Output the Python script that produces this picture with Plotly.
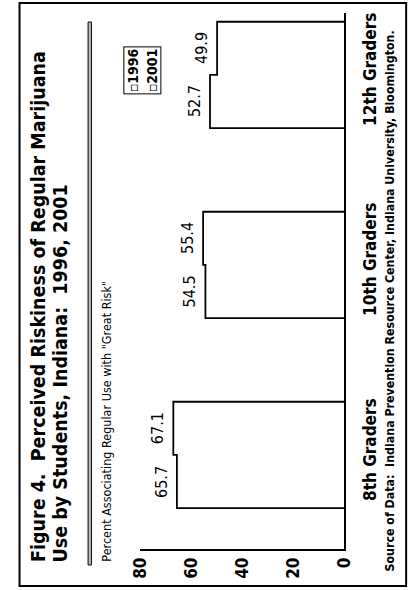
import plotly.graph_objects as go

# ---------------- data ----------------
categories = ["8th Graders", "10th Graders", "12th Graders"]
values_1996 = [65.7, 54.5, 52.7]
values_2001 = [67.1, 55.4, 49.9]
series_names = ["1996", "2001"]
tick_values = [0, 20, 40, 60, 80]
tick_labels = ["0", "20", "40", "60", "80"]

title_line1 = "Figure 4.  Perceived Riskiness of Regular Marijuana"
title_line2 = "Use by Students, Indiana:  1996, 2001"
subtitle = "Percent Associating Regular Use with \"Great Risk\""
source_text = "Source of Data:  Indiana Prevention Resource Center, Indiana University, Bloomington."

# ---------------- layout helpers ----------------
W, H = 419, 590


def px(x):
    return x / W


def py(y):
    return 1 - y / H


FONT = "Liberation Sans Narrow, DejaVu Sans Condensed, Arial Narrow, sans-serif"
BAR_W = 0.28
pos = list(range(len(categories)))

fig = go.Figure()

# bars (white fill, outline drawn as a single stepped path below)
for name, vals, off in [(series_names[0], values_1996, -BAR_W), (series_names[1], values_2001, 0.0)]:
    fig.add_trace(go.Bar(
        y=pos, x=vals, orientation="h", width=BAR_W, offset=off,
        marker=dict(color="white", line=dict(width=0)),
        name=name, showlegend=False, hoverinfo="x+name",
    ))

# outline of each category group (1996 + 2001 bars joined, no divider)
ox, oy = [], []
for i, (a, b) in enumerate(zip(values_1996, values_2001)):
    ox += [0, a, a, b, b, 0, None]
    oy += [i - BAR_W, i - BAR_W, i, i, i + BAR_W, i + BAR_W, None]
fig.add_trace(go.Scatter(
    x=ox, y=oy, mode="lines", line=dict(color="black", width=1.8),
    showlegend=False, hoverinfo="skip",
))

annotations = []

# value labels
for i, (a, b) in enumerate(zip(values_1996, values_2001)):
    for v, yc in [(a, i - BAR_W / 2), (b, i + BAR_W / 2)]:
        annotations.append(dict(
            x=v, y=yc, xref="x", yref="y", text=f"{v:.1f}", showarrow=False,
            textangle=-90, xanchor="right", yanchor="middle", xshift=-4,
            font=dict(family=FONT, size=16, color="black"),
        ))

# category labels
for i, c in enumerate(categories):
    annotations.append(dict(
        x=px(378), y=i, xref="paper", yref="y", text=c, showarrow=False,
        textangle=-90, xanchor="center", yanchor="middle", yshift=6,
        font=dict(family=FONT, size=17, color="black", weight="bold"),
    ))

# titles
annotations.append(dict(
    x=px(30), y=py(564), xref="paper", yref="paper", text=title_line1, showarrow=False,
    textangle=-90, xanchor="center", yanchor="bottom",
    font=dict(family=FONT, size=19.5, color="black", weight="bold"),
))
annotations.append(dict(
    x=px(53), y=py(564), xref="paper", yref="paper", text=title_line2, showarrow=False,
    textangle=-90, xanchor="center", yanchor="bottom",
    font=dict(family=FONT, size=19.5, color="black", weight="bold"),
))
annotations.append(dict(
    x=px(101), y=py(564), xref="paper", yref="paper", text=subtitle, showarrow=False,
    textangle=-90, xanchor="center", yanchor="bottom",
    font=dict(family=FONT, size=12.5, color="black"),
))

# legend box
annotations.append(dict(
    x=px(139), y=py(70), xref="paper", yref="paper",
    text="▫" + series_names[0] + "<br>▫" + series_names[1], showarrow=False,
    textangle=-90, xanchor="center", yanchor="middle", align="left",
    bordercolor="black", borderwidth=1, borderpad=1, bgcolor="white",
    font=dict(family=FONT, size=14, color="black", weight="bold"),
))

# source
annotations.append(dict(
    x=px(398), y=py(574), xref="paper", yref="paper", text=source_text, showarrow=False,
    textangle=-90, xanchor="center", yanchor="bottom",
    font=dict(family=FONT, size=12.3, color="black", weight="bold"),
))

shapes = [
    # outer frame
    dict(type="rect", xref="paper", yref="paper", x0=px(10), x1=px(416), y0=py(586), y1=py(3),
         line=dict(color="black", width=2)),
    # double rule under title
    dict(type="rect", xref="paper", yref="paper", x0=px(82), x1=px(85.5), y0=py(565), y1=py(22),
         line=dict(color="black", width=1), fillcolor="#bbbbbb"),
]

fig.update_layout(
    width=W, height=H,
    margin=dict(l=0, r=0, t=0, b=0),
    paper_bgcolor="white", plot_bgcolor="white",
    barmode="overlay",
    showlegend=False,
    annotations=annotations,
    shapes=shapes,
    font=dict(family=FONT, color="black"),
    xaxis=dict(
        domain=[px(137), px(351)], range=[80, 0],
        tickmode="array", tickvals=tick_values, ticktext=tick_labels,
        tickangle=-90, ticks="", showgrid=False, zeroline=False,
        showline=True, linecolor="black", linewidth=1.5,
        tickfont=dict(family=FONT, size=17, color="black", weight="bold"),
        fixedrange=True,
    ),
    yaxis=dict(
        domain=[py(549), py(13)], range=[-0.495, 2.326],
        side="right", showticklabels=False, ticks="",
        showgrid=False, zeroline=False,
        showline=True, linecolor="black", linewidth=1.5,
        fixedrange=True,
    ),
)

fig.write_html("out.html", config={"displayModeBar": False},
               post_script="document.body.style.margin='0';")
